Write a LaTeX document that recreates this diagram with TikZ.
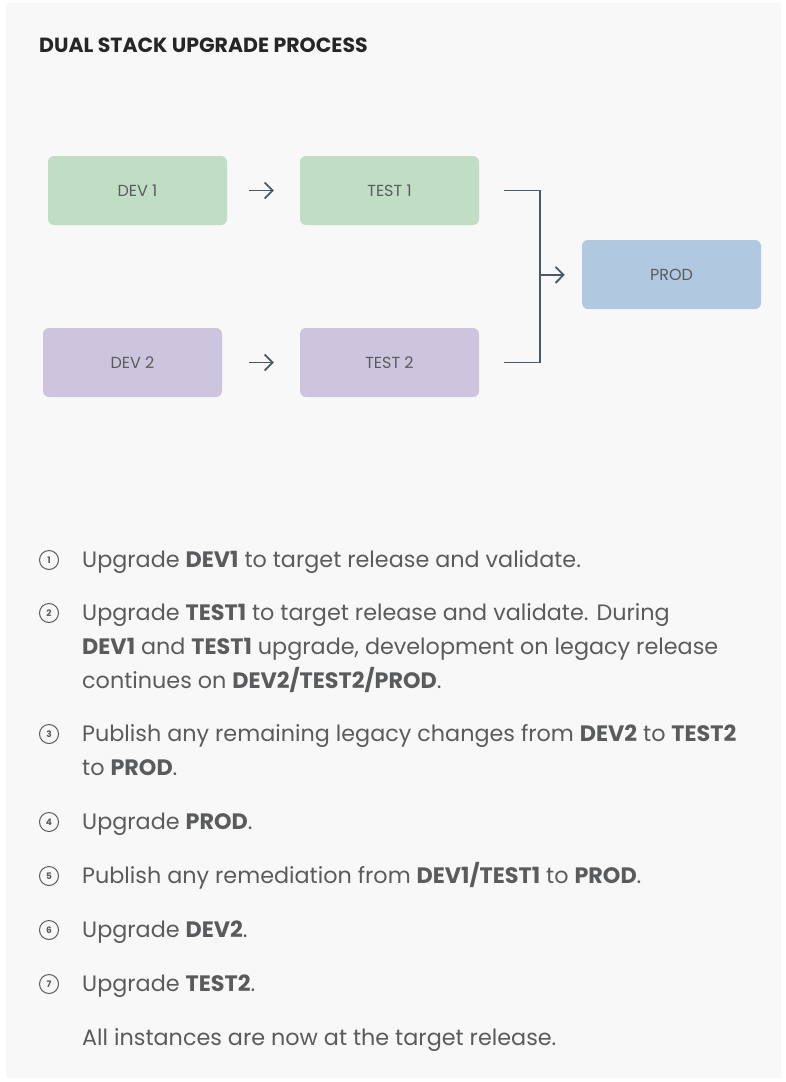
\documentclass[tikz,border=0pt]{standalone}
\usepackage{fontspec}
\setmainfont{Poppins}
\usepackage{tikz}
\usetikzlibrary{arrows.meta}
\definecolor{panel}{HTML}{F8F8F8}
\definecolor{ink}{HTML}{5A5B5D}
\definecolor{slate}{HTML}{4A5A63}
\definecolor{greenbox}{HTML}{BFDEC4}
\definecolor{purplebox}{HTML}{CDC5DE}
\definecolor{bluebox}{HTML}{B0C8E0}
\tikzset{
    env/.style={rounded corners=6pt, minimum width=179pt, minimum height=69pt,
        text=ink, font=\fontsize{16}{18}\selectfont, inner sep=0pt},
    link/.style={draw=slate, line width=1.8pt},
    flow/.style={link, -{Straight Barb[length=8pt,width=16pt,line width=1.8pt]}},
    stepnum/.style={circle, draw=ink, line width=1pt, minimum size=19pt, inner sep=0pt,
        text=ink, font=\fontsize{9}{9}\selectfont\bfseries},
    steptext/.style={anchor=base west, align=left, text=ink, inner sep=0pt,
        font=\fontsize{22.3}{34}\selectfont}
}
\begin{document}
\begin{tikzpicture}[x=1pt, y=-1pt]
        \useasboundingbox (0,0) rectangle (785,1082);
        \fill[panel] (6,3) rectangle (781,1078);
        \node[anchor=base west, inner sep=0pt, text=black!85, font=\fontsize{20.5}{24}\selectfont\bfseries] (title) at (39,52) {DUAL STACK UPGRADE PROCESS};
        \node[env, fill=greenbox] (dev1) at (137.5,190.5) {DEV 1};
        \node[env, fill=greenbox] (test1) at (389.5,190.5) {TEST 1};
        \node[env, fill=purplebox] (dev2) at (132.5,362.5) {DEV 2};
        \node[env, fill=purplebox] (test2) at (389.5,362.5) {TEST 2};
        \node[env, fill=bluebox] (prod) at (671.5,274.5) {PROD};
        \coordinate (join) at (540,275);
        \draw[flow, shorten <=22pt, shorten >=26pt] (dev1) -- (test1);
        \draw[flow, shorten <=27pt, shorten >=26pt] (dev2) -- (test2);
        \draw[link] ([xshift=25pt]test1.east) -| (join) |- ([xshift=25pt]test2.east);
        \draw[flow, shorten >=17pt] (join) -- (prod);
        \foreach \n/\y in {1/560,2/613,3/734,4/822,5/876,6/930,7/984}
            \node[stepnum] (num\n) at (49,\y) {\n};
        \node[steptext] (step1) at (82,567) {Upgrade \textbf{DEV1} to target release and validate.};
        \node[steptext] (step2) at (82,688) {Upgrade \textbf{TEST1} to target release and validate. During\\
            \textbf{DEV1} and \textbf{TEST1} upgrade, development on legacy release\\
            continues on \textbf{DEV2/TEST2/PROD}.};
        \node[steptext] (step3) at (82,775) {Publish any remaining legacy changes from \textbf{DEV2} to \textbf{TEST2}\\
            to \textbf{PROD}.};
        \node[steptext] (step4) at (82,829) {Upgrade \textbf{PROD}.};
        \node[steptext] (step5) at (82,883) {Publish any remediation from \textbf{DEV1/TEST1} to \textbf{PROD}.};
        \node[steptext] (step6) at (82,937) {Upgrade \textbf{DEV2}.};
        \node[steptext] (step7) at (82,991) {Upgrade \textbf{TEST2}.};
        \node[steptext] (done) at (82,1045) {All instances are now at the target release.};
\end{tikzpicture}
\end{document}
